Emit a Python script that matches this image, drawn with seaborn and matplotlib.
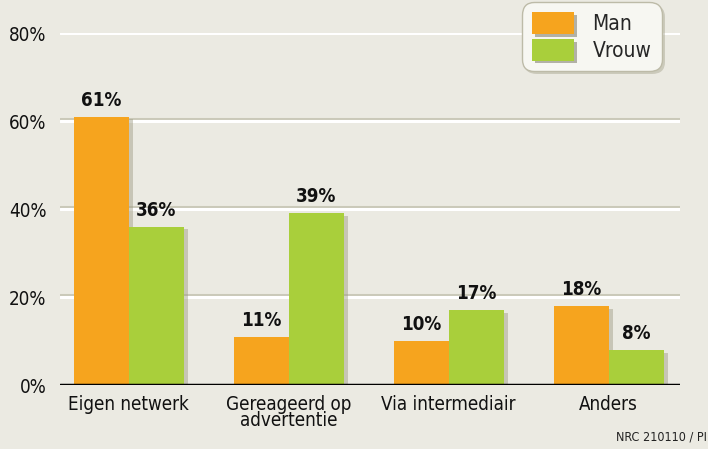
import pandas as pd
import seaborn as sns
import matplotlib.pyplot as plt
import matplotlib.patheffects as pe

# Data
categories = ['Eigen netwerk', 'Gereageerd op\nadvertentie', 'Via intermediair', 'Anders']
man = [61, 11, 10, 18]
vrouw = [36, 39, 17, 8]
groups = ['Man', 'Vrouw']
colors = ['#f6a41e', '#a9cf3b']
yticks = [0, 20, 40, 60, 80]

df = pd.DataFrame({
    'cat': categories * 2,
    'pct': man + vrouw,
    'groep': [groups[0]] * 4 + [groups[1]] * 4,
})

bg = '#ebeae2'
sns.set_style('white')
plt.rcParams['font.family'] = ['DejaVu Sans']
plt.rcParams['font.stretch'] = 'condensed'

fig = plt.figure(figsize=(7.08, 4.49), dpi=100, facecolor=bg)
ax = fig.add_axes([0.085, 0.1425, 0.875, 0.784])
ax.set_facecolor(bg)

# Grid lines with a soft shadow
for y in yticks[1:]:
    ax.axhline(y, color='white', lw=2.2, zorder=1,
               path_effects=[pe.SimpleLineShadow(offset=(0, 1.5), shadow_color='#b5b39f', alpha=0.6), pe.Normal()])

sns.barplot(data=df, x='cat', y='pct', hue='groep', palette=colors, saturation=1,
            width=0.6875, ax=ax, zorder=3, legend=True)

for bar in ax.patches:
    bar.set_path_effects([pe.SimplePatchShadow(offset=(3, -2), shadow_rgbFace='#9c9a82', alpha=0.45), pe.Normal()])
    bar.set_linewidth(0)

for cont in ax.containers:
    ax.bar_label(cont, labels=[f'{int(v)}%' for v in cont.datavalues], padding=5,
                 fontsize=13.5, fontweight='bold', color='#111111')

ax.axhline(0, color='black', lw=2.5, zorder=4)
ax.set_ylim(0, 80)
ax.set_xlim(-0.428, 3.444)
ax.set_yticks(yticks)
ax.set_yticklabels([f'{v}%' for v in yticks], fontsize=13.5)
ax.tick_params(axis='x', labelsize=13.5, length=0, pad=7, colors='#111111')
ax.tick_params(axis='y', length=0, pad=10, colors='#111111')
ax.set_xlabel('')
ax.set_ylabel('')
for s in ax.spines.values():
    s.set_visible(False)
for lbl in ax.get_xticklabels():
    lbl.set_linespacing(0.85)

leg = ax.legend(loc='upper left', bbox_to_anchor=(0.745, 1.088), borderaxespad=0,
                fontsize=15, frameon=True, fancybox=True, handlelength=2.0, handleheight=1.2,
                borderpad=0.5, labelspacing=0.25, handletextpad=0.9)
frame = leg.get_frame()
frame.set_facecolor('#f7f7f2')
frame.set_edgecolor('#bdbba8')
frame.set_alpha(1)
frame.set_boxstyle('round', pad=0, rounding_size=0.6)
frame.set_path_effects([pe.SimplePatchShadow(offset=(2, -2), shadow_rgbFace='#9c9a82', alpha=0.4), pe.Normal()])
for h in leg.legend_handles:
    h.set_path_effects([pe.SimplePatchShadow(offset=(2, -2), shadow_rgbFace='#6f6d5c', alpha=0.5), pe.Normal()])
leg.set_zorder(6)

fig.text(0.87, 0.02, 'NRC 210110 / PI', fontsize=9, color='#222222')

fig.savefig('out.png', dpi=100, facecolor=bg)
